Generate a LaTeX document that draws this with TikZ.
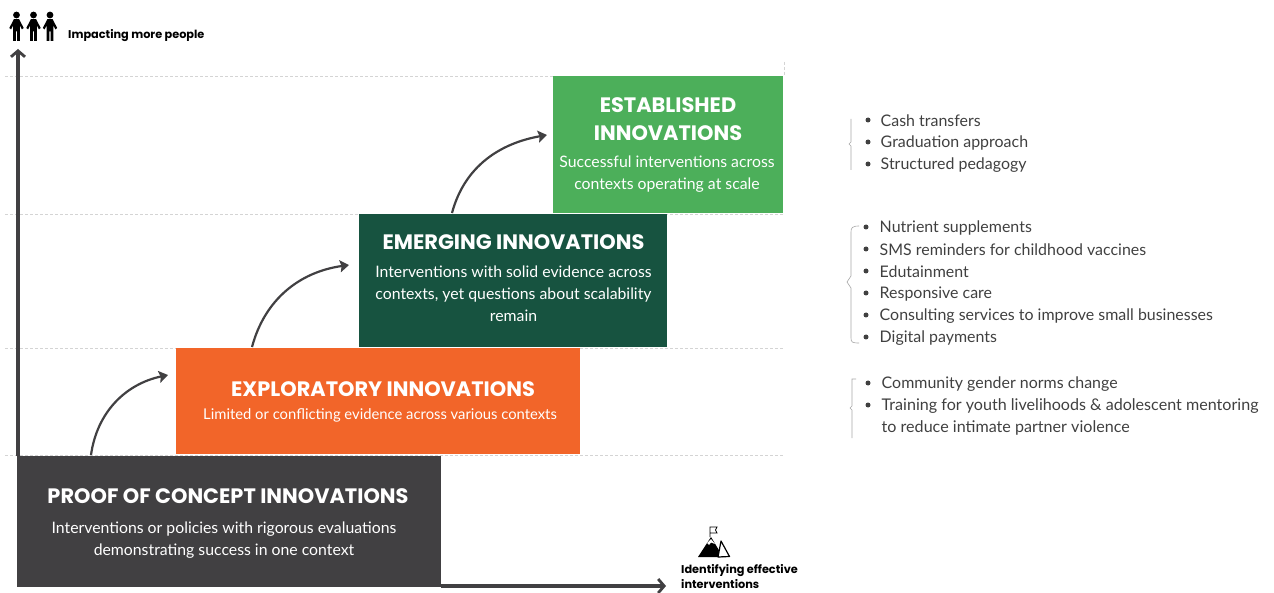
\documentclass[tikz,border=0pt]{standalone}
\usepackage{fontspec}
\setmainfont{Lato}
\newfontfamily\headfont{Poppins}
\usetikzlibrary{arrows.meta}
\definecolor{slategrey}{HTML}{414042}
\definecolor{orangebox}{HTML}{F26529}
\definecolor{darkgreen}{HTML}{175340}
\definecolor{lightgreen}{HTML}{4CAF5A}
\tikzset{
  steptitle/.style={text=white, font=\headfont\fontsize{20.9}{28}\selectfont\bfseries, align=center},
  stepbody/.style={text=white, font=\fontsize{15.8}{22}\selectfont, align=center},
  axisline/.style={draw=slategrey, line width=3.8pt, -{Straight Barb[length=6pt,width=14pt,line width=2.8pt]}},
  curvearrow/.style={draw=slategrey, line width=2.2pt, -{Stealth[length=9pt,width=12pt,inset=1.5pt]}},
  levelline/.style={draw=black!17, line width=0.6pt, densely dashed},
  bracketline/.style={draw=black!35, line width=0.6pt},
  axislabel/.style={font=\headfont\fontsize{11.3}{14.5}\selectfont\bfseries, align=left, anchor=west, inner sep=0pt},
  listitem/.style={text=black!75, font=\fontsize{15.95}{22}\selectfont, anchor=west, inner sep=0pt},
  listdot/.style={circle, fill=black!75, inner sep=0pt, minimum size=5pt},
  person/.pic={
    \fill (0,-26) circle (3.4);
    \fill (-2.6,-21.8) -- (2.6,-21.8) -- (7.2,-13) -- (5.4,-11.6) -- (3.4,-15.5) -- (3.4,0) -- (.7,0) -- (.7,-9.5) -- (-.7,-9.5) -- (-.7,0) -- (-3.4,0) -- (-3.4,-15.5) -- (-5.4,-11.6) -- (-7.2,-13) -- cycle;
  }
}
\begin{document}
\begin{tikzpicture}[x=1pt,y=-1pt]
  \useasboundingbox (0,0) rectangle (1274,593);

  % level lines
  \foreach \ypos in {76,214,348,455}
    \draw[levelline] (5,\ypos) -- (784,\ypos);
  \draw[levelline] (784,62) -- (784,76);

  % boxes
  \fill[slategrey] (17,456) rectangle (441,587);
  \fill[orangebox] (176,348) rectangle (580,454);
  \fill[darkgreen] (359,214) rectangle (667,347);
  \fill[lightgreen] (553,76) rectangle (783,213);

  \node[steptitle] (prooftitle) at (228,496.2) {PROOF OF CONCEPT INNOVATIONS};
  \node[stepbody] (proofbody) at (224,540.6) {Interventions or policies with rigorous evaluations\\demonstrating success in one context};
  \node[steptitle] (exploretitle) at (383,389.2) {EXPLORATORY INNOVATIONS};
  \node[stepbody, font=\fontsize{14.8}{22}\selectfont] (explorebody) at (380,415.6) {Limited or conflicting evidence across various contexts};
  \node[steptitle] (emergetitle) at (513.5,242.2) {EMERGING INNOVATIONS};
  \node[stepbody] (emergebody) at (513.5,293.6) {Interventions with solid evidence across\\contexts, yet questions about scalability\\remain};
  \node[steptitle] (esttitle) at (668,119.2) {ESTABLISHED\\INNOVATIONS};
  \node[stepbody] (estbody) at (667,174.6) {Successful interventions across\\contexts operating at scale};

  % axes
  \coordinate (origin) at (18,456);
  \coordinate (ytip) at (18,49);
  \coordinate (xstart) at (441,586);
  \coordinate (xtip) at (666,586);
  \draw[axisline] (origin) -- (ytip);
  \draw[axisline] (xstart) -- (xtip);

  % curved arrows
  \coordinate (up1) at (91,455);
  \coordinate (to1) at (168,375);
  \coordinate (up2) at (252,347);
  \coordinate (to2) at (349,265);
  \coordinate (up3) at (452,213);
  \coordinate (to3) at (547,135);
  \draw[curvearrow] (up1) to[out=82,in=192] (to1);
  \draw[curvearrow] (up2) to[out=75,in=188] (to2);
  \draw[curvearrow] (up3) to[out=75,in=190] (to3);

  % icons
  \foreach \xpos in {16.5,33.5,50}
    \pic[black] at (\xpos,41) {person};
  \node[axislabel] (peoplelabel) at (68,35.5) {Impacting more people};
  \fill[black] (698,557) -- (711,537) -- (723,557) -- cycle;
  \draw[black, line width=1.2pt, line join=round, fill=white] (718,557) -- (721,541) -- (729.5,556.5) -- cycle;
  \fill[white] (707,543) -- (711,539) -- (715,544) -- (711,542.5) -- (709,545) -- cycle;
  \draw[black, line width=0.8pt] (710,537) -- (710,527) -- (717,527) -- (715.5,530) -- (717,533) -- (710,533);
  \node[axislabel] (goallabel) at (681,576.5) {Identifying effective\\interventions};

  % established list
  \draw[bracketline] (851,119) -- (851,142) -- (849,144) -- (851,146) -- (851,170);
  \foreach \ypos/\lab in {121/Cash transfers,143/Graduation approach,165/Structured pedagogy} {
    \node[listdot] at (868,\ypos-1) {};
    \node[listitem] at (880.5,\ypos) {\lab};
  }

  % emerging list
  \draw[bracketline] (859,226) .. controls (852,226) and (851,228) .. (851,232) -- (851,276) -- (847,282) -- (851,288) -- (851,338) .. controls (851,342) and (852,343) .. (859,343);
  \foreach \ypos/\lab in {228/Nutrient supplements,250/SMS reminders for childhood vaccines,272/Edutainment,294/Responsive care,316/Consulting services to improve small businesses,338/Digital payments} {
    \node[listdot] at (866,\ypos-1) {};
    \node[listitem] at (879.5,\ypos) {\lab};
  }

  % exploratory list
  \draw[bracketline] (856,379) -- (852,379) -- (852,406) -- (850,408) -- (852,410) -- (852,438);
  \node[listdot] at (868,383) {};
  \node[listitem] at (881.5,384) {Community gender norms change};
  \node[listdot] at (868,405) {};
  \node[listitem, font=\fontsize{16.1}{22}\selectfont] at (881.5,406) {Training for youth livelihoods \& adolescent mentoring};
  \node[listitem, font=\fontsize{16.1}{22}\selectfont] at (881.5,428) {to reduce intimate partner violence};
\end{tikzpicture}
\end{document}
